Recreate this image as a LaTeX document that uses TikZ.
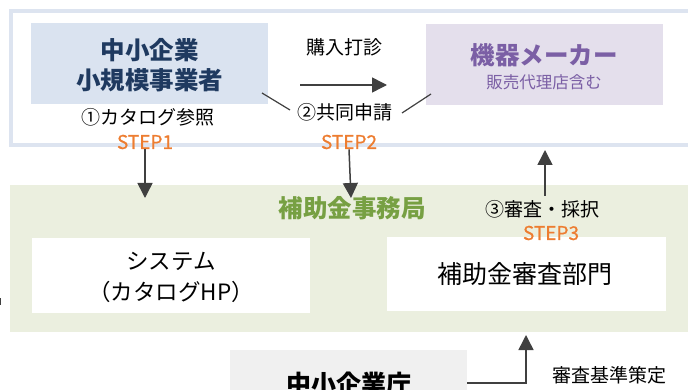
\documentclass[tikz,border=0pt]{standalone}
\usepackage{fontspec}
\setmainfont{Noto Sans CJK JP}
\newfontfamily\stepfont{Noto Sans CJK JP}[FakeBold=0.7]
\usetikzlibrary{arrows.meta}
\definecolor{framec}{HTML}{DDE4F0}
\definecolor{compfill}{HTML}{DAE3F0}
\definecolor{comptext}{HTML}{1F3A60}
\definecolor{makerfill}{HTML}{E4DFEC}
\definecolor{makertext}{HTML}{7B5FA5}
\definecolor{bandfill}{HTML}{EBEFDF}
\definecolor{bandtext}{HTML}{77A043}
\definecolor{stepc}{HTML}{ED7D31}
\definecolor{grayfill}{HTML}{F0F0F0}
\definecolor{arrc}{HTML}{404040}
\begin{document}
\begin{tikzpicture}[x=1pt,y=-1pt,
  box/.style={inner sep=0pt, outer sep=0pt, draw=none},
  lbl/.style={inner sep=0pt, font=\fontsize{19}{22}\selectfont, text=black},
  steplbl/.style={inner sep=0pt, font=\stepfont\fontsize{19}{22}\selectfont, text=stepc},
  arr/.style={draw=arrc, line width=1.5pt, -{Triangle[width=15pt,length=15pt]}},
  link/.style={draw=arrc, line width=1.2pt}]
\useasboundingbox (0,0) rectangle (688,390);
\clip (0,0) rectangle (688,390);
% frames and bands
\draw[framec, line width=4.5pt] (11,11) rectangle (720,145);
\fill[bandfill] (10,185) rectangle (720,332);
\node[box, fill=compfill, minimum width=237pt, minimum height=81pt] (comp) at (149.5,63.5) {};
\node[inner sep=0pt, align=center, text=comptext, font=\fontsize{24.5}{30}\selectfont\bfseries] (compt) at (149.5,65) {中小企業\\小規模事業者};
\node[box, fill=makerfill, minimum width=237pt, minimum height=81pt] (maker) at (544.5,64.5) {};
\node[inner sep=0pt, text=makertext, font=\fontsize{24.5}{28}\selectfont\bfseries] (makert) at (544,55) {機器メーカー};
\node[inner sep=0pt, text=makertext, font=\fontsize{16.5}{20}\selectfont] (makers) at (544,82) {販売代理店含む};
\node[inner sep=0pt, text=bandtext, font=\fontsize{24.5}{28}\selectfont\bfseries] (bureau) at (352,208) {補助金事務局};
\node[box, fill=white, minimum width=278pt, minimum height=75pt] (sys) at (171,275.5) {};
\node[inner sep=0pt, align=center, font=\fontsize{22.5}{31}\selectfont] (syst) at (171,277.5) {システム\\（カタログHP）};
\node[box, fill=white, minimum width=279pt, minimum height=74pt] (rev) at (526.5,274) {};
\node[inner sep=0pt, font=\fontsize{25}{28}\selectfont] (revt) at (525,274) {補助金審査部門};
\node[box, fill=grayfill, minimum width=237pt, minimum height=60pt, anchor=north west] (sme) at (230,350) {};
\node[inner sep=0pt, font=\fontsize{25}{28}\selectfont\bfseries] (smet) at (349,384) {中小企業庁};
% labels
\node[lbl] (buy) at (344.5,47) {購入打診};
\node[lbl] (s1) at (148,117) {①カタログ参照};
\node[steplbl] (st1) at (145,142) {STEP1};
\node[lbl] (s2) at (345,112) {②共同申請};
\node[steplbl] (st2) at (349,142) {STEP2};
\node[lbl] (s3) at (542,209) {③審査・採択};
\node[steplbl] (st3) at (551,233) {STEP3};
\node[lbl] (crit) at (609,375) {審査基準策定};
% coordinates
\coordinate (h1) at (300,85);
\coordinate (h2) at (387,85);
\coordinate (d1) at (145,198);
\coordinate (d2) at (351,198);
\coordinate (u3a) at (545,196);
\coordinate (u3b) at (545,150);
\coordinate (l1a) at (262,93);
\coordinate (l1b) at (290,110);
\coordinate (l2a) at (402,113);
\coordinate (l2b) at (431,94);
\coordinate (sm1) at (467,383);
\coordinate (rv1) at (526,335);
% connectors
\draw[arr] (h1) -- (h2);
\draw[arr] (st1.south) -- (d1);
\draw[arr] (st2.south) -- (d2);
\draw[arr] (u3a) -- (u3b);
\draw[arr] (sm1) -| (rv1);
\draw[link] (l1a) -- (l1b);
\draw[link] (l2a) -- (l2b);
% tiny cut-off mark at the left edge
\fill[arrc] (0,298) rectangle (1.3,305);
\end{tikzpicture}
\end{document}
